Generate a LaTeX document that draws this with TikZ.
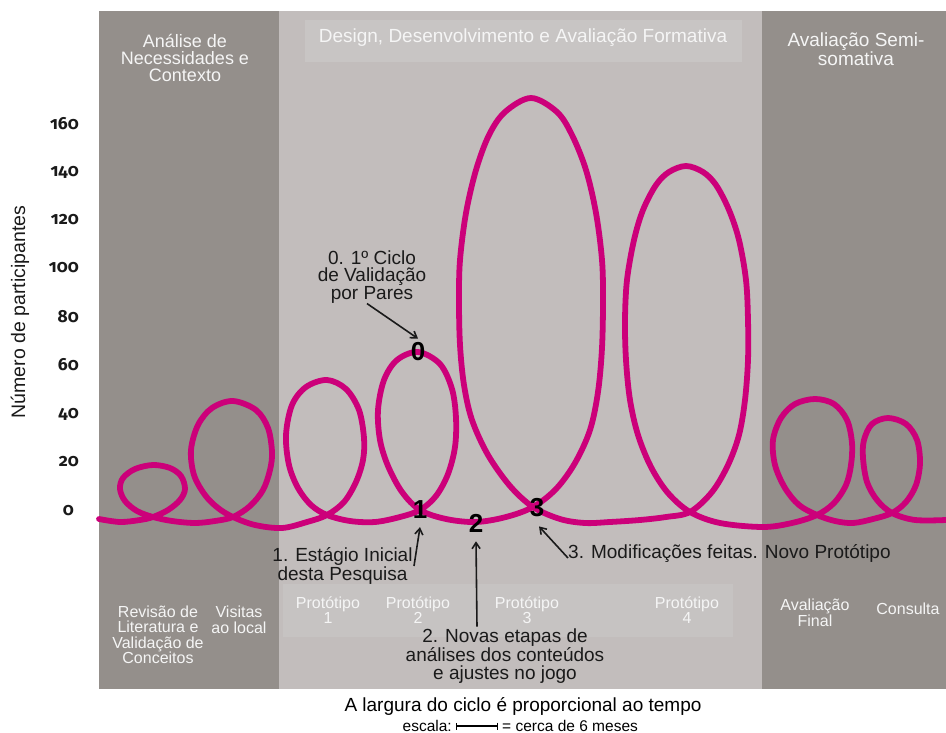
\documentclass[tikz,border=0pt]{standalone}
\usepackage{fontspec}
\setmainfont{Liberation Sans}
\newfontfamily\axisfont[Numbers=OldStyle]{Fira Sans}
\usetikzlibrary{arrows.meta}

\definecolor{bandDark}{HTML}{948F8B}
\definecolor{bandMid}{HTML}{C2BDBC}
\definecolor{headBox}{HTML}{C8C5C4}
\definecolor{protoBox}{HTML}{C6C3C2}
\definecolor{loopPink}{HTML}{CC007A}
\definecolor{paleText}{HTML}{F5F5F5}
\definecolor{inkText}{HTML}{1A1A1A}

\begin{document}
\begin{tikzpicture}[x=1pt,y=-1pt,
  phase/.style={font=\fontsize{18}{17}\selectfont, text=paleText, align=center, inner sep=0pt},
  activity/.style={font=\fontsize{16}{15.5}\selectfont, text=paleText, align=center, inner sep=0pt},
  notetext/.style={font=\fontsize{19}{17.5}\selectfont, text=inkText, align=center, inner sep=0pt},
  markerlabel/.style={font=\fontsize{26}{26}\selectfont\bfseries, text=black, inner sep=0pt},
  ticklabel/.style={font=\axisfont\bfseries\fontsize{17.5}{17.5}\selectfont, text=inkText, inner sep=0pt, anchor=east},
  scalelabel/.style={font=\fontsize{15.5}{16}\selectfont, text=black, inner sep=0pt},
  arr/.style={-{Straight Barb[length=6pt,width=8pt]}, line width=1.6pt, draw=inkText},
  scalebar/.style={{Bar[width=7pt]}-{Bar[width=7pt]}, line width=1.4pt, draw=black},
  loopline/.style={draw=loopPink, line width=5.8pt, line join=round, line cap=round}
]
\useasboundingbox (0,0) rectangle (946,733);
\fill[white] (0,0) rectangle (946,733);

% phase bands
\fill[bandDark] (99,11) rectangle (279,689);
\fill[bandMid] (279,11) rectangle (762,689);
\fill[bandDark] (762,11) rectangle (946,689);
\fill[headBox] (305,20) rectangle (742,62);
\fill[protoBox] (283,584) rectangle (733,637);

% phase titles
\node[phase] (hA) at (185,58) {Análise de\\Necessidades e\\Contexto};
\node[phase, font=\fontsize{19}{17}\selectfont] (hD) at (523,38) {Design, Desenvolvimento e Avaliação Formativa};
\node[phase, font=\fontsize{19}{17}\selectfont] (hS) at (856,49) {Avaliação Semi-\\somativa};

% activities
\node[activity] (aRev) at (158,635) {Revisão de\\Literatura e\\Validação de\\Conceitos};
\node[activity] (aVis) at (239,620) {Visitas\\ao local};
\node[activity] (p1) at (328,610) {Protótipo\\1};
\node[activity] (p2) at (418,610) {Protótipo\\2};
\node[activity] (p3) at (527,610) {Protótipo\\3};
\node[activity] (p4) at (687,610) {Protótipo\\4};
\node[activity, font=\fontsize{16}{13}\selectfont] (aFin) at (815,613) {Avaliação\\Final};
\node[activity] (aCon) at (908,609) {Consulta};

% vertical axis
\node[rotate=90, font=\fontsize{19.5}{20}\selectfont, text=inkText, inner sep=0pt] (ylab) at (20,312) {Número de participantes};
\node[ticklabel] (y160) at (79,124) {160};
\node[ticklabel] (y140) at (79,172) {140};
\node[ticklabel] (y120) at (79,220) {120};
\node[ticklabel] (y100) at (79,268) {100};
\node[ticklabel] (y80) at (79,317) {80};
\node[ticklabel] (y60) at (79,365) {60};
\node[ticklabel] (y40) at (79,414) {40};
\node[ticklabel] (y20) at (79,462) {20};
\node[ticklabel] (y0) at (74,511) {0};

% the looping timeline
\draw[loopline] plot[smooth, tension=0.55] coordinates {
  (99,519) (120,522) (140,520)
  (153,517) (168,510) (180,500) (185,489) (181,476) (170,468) (153,465) (135,469) (123,478) (120,489) (125,501) (137,511) (153,517)
  (172,521) (195,523) (215,521)
  (233,517) (250,506) (263,490) (270,470) (272,452) (268,428) (256,410) (233,401) (212,408) (198,425) (191,450) (194,475) (205,495) (218,508) (233,517)
  (255,525) (282,528) (307,522)
  (327,515) (344,502) (356,482) (363,460) (364,438) (359,410) (346,389) (327,380) (306,387) (292,405) (286,435) (289,465) (298,488) (311,505) (327,515)
  (350,521) (375,522) (400,517)
  (420,510) (436,496) (448,474) (455,447) (456,418) (452,389) (440,364) (418,352) (397,360) (384,380) (378,410) (380,440) (388,466) (402,492) (420,510)
  (446,519) (476,522) (506,517)
  (533,507) (556,489) (575,463) (590,430) (598,392) (602,348) (603,300) (602,260) (596,213) (586,170) (572,135) (557,112) (531,98) (505,112) (489,135) (476,170) (466,213) (460,260) (459,300) (460,345) (464,385) (472,420) (488,455) (510,486) (533,507)
  (560,519) (585,523) (610,522) (640,520) (666,517)
  (690,512) (712,492) (728,465) (739,435) (745,400) (748,360) (748,320) (746,280) (739,240) (729,210) (716,185) (703,172) (686,166) (669,172) (656,185) (643,210) (634,240) (627,280) (625,320) (626,360) (630,400) (638,435) (651,467) (668,493) (690,512)
  (720,523) (763,527) (792,523)
  (817,515) (834,503) (846,485) (851,465) (852,443) (847,420) (834,404) (815,399) (795,404) (781,418) (773,440) (775,465) (785,488) (799,505) (817,515)
  (835,521) (853,523) (873,519)
  (892,513) (906,502) (916,485) (920,463) (917,440) (906,424) (888,418) (872,424) (864,440) (863,458) (867,482) (877,500) (892,513)
  (915,520) (946,520)
};

% stage markers
\node[markerlabel] (m0) at (418,352) {0};
\node[markerlabel] (m1) at (420,510) {1};
\node[markerlabel] (m2) at (476,523) {2};
\node[markerlabel] (m3) at (537,508) {3};

% annotations
\node[notetext] (n0txt) at (372,277) {0. 1º Ciclo\\de Validação\\por Pares};
\node[notetext] (n1txt) at (342.5,566) {1. Estágio Inicial\\desta Pesquisa};
\node[notetext] (n2txt) at (505,656) {2. Novas etapas de\\análises dos conteúdos\\e ajustes no jogo};
\node[notetext, anchor=west] (n3txt) at (568,554) {3. Modificações feitas. Novo Protótipo};

\coordinate (t1) at (414,566);
\draw[arr] ([xshift=-5pt]n0txt.south) -- ([yshift=4pt]m0.north);
\draw[arr] (t1) -- ([yshift=-8pt]m1.south);
\draw[arr] ([xshift=-28pt,yshift=2pt]n2txt.north) -- ([yshift=-9pt]m2.south);
\draw[arr] ([yshift=-4pt]n3txt.west) -- ([xshift=2pt,yshift=-9pt]m3.south);

% caption and time scale
\node[font=\fontsize{19}{19}\selectfont, text=black, inner sep=0pt] (cap) at (523,706) {A largura do ciclo é proporcional ao tempo};
\node[scalelabel, anchor=east] (esc) at (452,726) {escala:};
\node[scalelabel, anchor=west] (mes) at (502,726) {= cerca de 6 meses};
\draw[scalebar] ([xshift=4pt]esc.east) -- ([xshift=-4pt]mes.west);
\end{tikzpicture}
\end{document}
